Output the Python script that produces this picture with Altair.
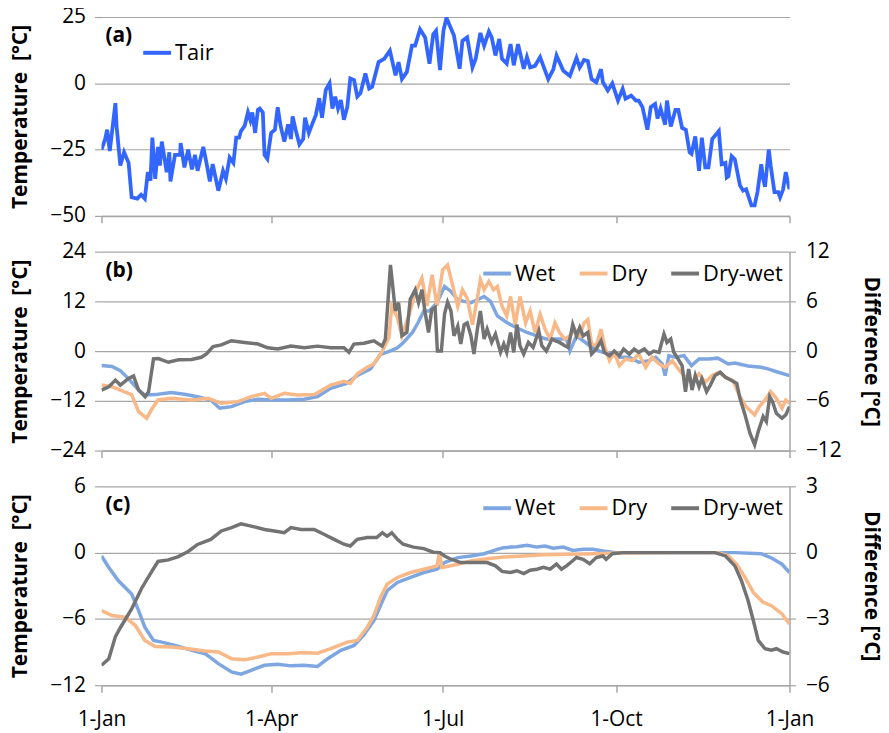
import altair as alt
import pandas as pd

# ---------------- data (day of year, value) ----------------
tick_days = [0, 90, 181, 273, 365]
tick_labels = ["1-Jan", "1-Apr", "1-Jul", "1-Oct", "1-Jan"]

tair = [(0, -25), (2, -21), (3, -17.5), (4.4, -25.5), (7.4, -7.5), (8, -16), (10, -31), (12, -26), (14.4, -30),
        (16, -43), (19, -43.5), (21, -42), (23, -43.5), (24.6, -33.5), (26, -36.7), (27, -20.5), (28.5, -36),
        (30, -24), (31, -31), (32, -22), (34.6, -33.5), (36, -26), (36.6, -37), (39, -27), (41.7, -27),
        (42, -22.5), (44, -31.7), (46, -25), (48, -32.5), (49.6, -27), (51, -33), (54, -24), (55.7, -30),
        (57.5, -37), (59, -30.5), (62, -40.5), (64.5, -33), (66, -36), (68, -28), (70, -30), (71.5, -20.5),
        (73, -20.5), (74, -18), (76, -16), (77.7, -11), (79, -14), (80, -11), (81.5, -18.7), (83, -10),
        (84, -9.5), (85.6, -11), (86.5, -27), (88, -28.5), (90, -18.7), (92, -17.5), (93.5, -9), (95, -16),
        (97, -22), (99, -15.5), (100.5, -21), (101.4, -12.5), (103, -17.5), (105, -23), (107, -21), (108, -13),
        (110, -18.7), (112, -15), (113.7, -12), (115.5, -5.6), (117, -13), (119, -2.5), (121, 0), (122.5, -9.5),
        (124, -5), (125.5, -9.5), (127, -6.3), (128.6, -13.7), (130.4, -9), (132, 1.8), (134, 1.2), (135.7, -5),
        (137.4, -3.7), (140, 3.7), (142, -2), (143.6, -1.3), (147, 8), (150, 9.2), (153, 12.3), (156, 3),
        (157.6, 8), (159.4, 1.6), (162, 4.3), (164.7, 14.2), (166.4, 14.2), (169, 20.4), (171.7, 17.3),
        (174, 7.4), (176, 18.5), (177.5, 19.8), (179.6, 5), (181.4, 19.8), (183, 24.7), (187, 18), (190, 5.5),
        (191.5, 16), (194, 17.3), (196.8, 6), (198.5, 9.2), (201, 19), (203, 14.2), (205.5, 19.5), (207, 17.3),
        (209, 10.5), (211, 16.7), (212.5, 9.2), (215, 7.4), (217, 14.8), (218.7, 6.8), (221, 14.8), (224, 5.5),
        (225.7, 9.9), (227.4, 6), (230, 6.6), (232.7, 9.9), (234.4, 6.6), (237, 1.6), (239.7, 5.3), (241.4, 10.5),
        (245, 4.7), (248.5, 2.8), (252, 9.6), (253.7, 6), (256, 8.8), (258, 8.4), (260, 1.6), (262.5, 0.4),
        (265, 5.3), (266, 0.4), (268.6, -2.7), (271, 0), (274, -6.5), (276.5, -2.1), (278, -5.8), (281, -4.6),
        (283.5, -6.5), (285, -6.5), (287, -9), (289.6, -17.5), (291.4, -9), (293.7, -7.8), (295, -13.3),
        (296.6, -9.5), (299, -15.6), (300, -6.5), (302, -16.3), (304.5, -10), (306, -10), (308, -16.8),
        (310, -17.5), (312, -26), (313, -26.6), (315, -20), (317, -33), (318.5, -20.5), (320.3, -31.7),
        (322, -31.7), (324, -21), (327.5, -18), (329, -30.5), (331, -30), (331.7, -35.5), (332.6, -35),
        (334.3, -27.5), (336, -28.7), (338.7, -38.5), (340.4, -40.5), (342, -40), (344.8, -46), (346.5, -46),
        (348, -41), (350, -30.5), (351, -36), (352, -39), (354, -25), (355, -31), (357, -41), (359, -41),
        (360, -43), (361.6, -40), (363, -33.5), (365, -40)]

wet_b = [(0, -3.5), (5.6, -3.7), (10, -4.7), (14.4, -6.7), (19.7, -9.4), (23, -10.6), (28.5, -10.5), (37, -10),
         (44, -10.4), (51, -11), (58, -11.8), (62.7, -13.8), (69, -13.4), (76, -12.2), (83, -11.6), (90, -11.8),
         (99, -11.8), (107.5, -11.6), (114.6, -11), (121.6, -9), (130, -7.8), (135.7, -5.9), (142.7, -4.3),
         (148, -0.8), (153, 0), (157, 0.8), (160, 2), (165, 4.5), (168, 6.9), (171, 9.7), (174, 9.7),
         (178, 11.7), (182, 15.6), (185.4, 14.4), (189, 12.4), (192.4, 12), (196, 11.7), (199.4, 12.4),
         (203, 13.2), (206.4, 12), (210, 8.5), (215, 6.9), (220, 5.7), (225.7, 4.5), (231, 3.7), (236, 2.9),
         (241.4, 2.9), (246.7, 2.9), (248.5, 0), (252, 3.7), (255.5, 2.5), (259, 1.3), (264, 0), (269.5, -0.7),
         (274.7, -1.5), (280, -1.5), (285, -2.7), (290.5, -2.3), (294, -1.5), (297.5, -3.1), (299, -5.9),
         (301, -1.1), (304.5, -1.5), (309, -1.1), (313, -3.5), (317, -1.9), (322, -1.9), (327, -1.7),
         (332.5, -3.1), (336, -2.9), (343, -3.6), (350, -3.9), (353.6, -4.3), (359, -5.1), (365, -5.9)]

dry_b = [(0, -8.2), (5.6, -8.6), (12, -9.8), (16, -10.5), (19.7, -14.6), (24, -16.2), (27, -13.8), (30, -11.8),
         (37, -11.4), (48, -11.8), (56.6, -11.4), (63.6, -12.6), (72.4, -12.2), (79.4, -11), (86.5, -10.2),
         (90, -11.4), (97, -10.2), (104, -10.6), (113, -10.5), (121.6, -8.2), (128.6, -7.3), (132, -7.8),
         (135.7, -5.5), (141, -3.9), (144.5, -3.1), (149, 0), (152.5, 3.3), (154, 10.9), (157, 8.1),
         (159.4, 3.7), (163, 8.5), (166.4, 14), (170, 17.6), (172.6, 10.9), (175.4, 18.4), (178, 10.9),
         (181, 19.6), (183.6, 20.8), (186, 16.4), (189, 10.8), (191.5, 14.8), (194, 12.8), (196.8, 6.4),
         (199.4, 12.8), (201, 17.2), (203, 14.8), (205.5, 16.8), (208, 14.8), (210, 15.6), (212.5, 10.8),
         (215, 8.5), (217, 13.2), (219.5, 6.4), (222, 13.2), (225, 6.8), (227.4, 9.7), (230, 4.5), (232.7, 8.9),
         (235.3, 5.3), (238, 2.9), (240.6, 6.8), (243, 4.5), (245.8, 2.9), (248.5, 3.7), (251, 5.3),
         (253.7, 3.7), (256, 6.8), (258, 7.6), (260, 1.7), (262.5, 1.3), (265, 5.3), (266.8, 1.3), (269.5, -2.3),
         (272, -0.3), (274.7, -3.5), (278, -1.9), (281.7, -2.3), (285, -0.7), (288.7, -3.9), (292, -1.5),
         (295.8, -3.1), (299, -3.9), (302.8, -2.3), (306, -4.3), (309.8, -6.3), (313.3, -7.5), (317, -5.5),
         (320.3, -7.5), (324, -5.9), (327.5, -5.1), (331, -6.3), (335, -7.1), (338.7, -11), (342, -13.4),
         (346.5, -15.4), (349, -13.4), (352, -11.8), (355, -9.8), (358, -11.4), (361, -13.8), (363, -11.8),
         (365, -12.6)]

drywet_b = [(0, -4.7), (3.9, -4.3), (7.4, -3.5), (10, -4.1), (14.4, -3.3), (17, -3), (19.7, -4.7), (23.2, -5.5),
            (25, -4.9), (27.6, -0.95), (30.2, -0.9), (35.5, -1.35), (40.8, -1.05), (47.8, -1), (53, -0.75),
            (55.7, -0.35), (59.2, 0.55), (63.6, 0.75), (68.9, 1.25), (75.9, 1.05), (83, 0.85), (88.2, 0.4),
            (93.5, 0.25), (100.5, 0.6), (107.6, 0.4), (114.6, 0.6), (121.6, 0.4), (128.6, 0.4), (131.3, -0.15),
            (133.9, 0.85), (139.2, 0.95), (144.5, 1.25), (148.9, 0.6), (150.6, 1.45), (153.3, 10.4),
            (155.9, 4.85), (157.6, 5.85), (159.4, 1.85), (162, 2.25), (163.8, 6.25), (166.4, 7.4), (168.2, 5.85),
            (170, 7.4), (171.7, 4.65), (173.5, 2.25), (175.2, 5), (177, 5.25), (178.2, 0), (180.3, 0),
            (182, 4.5), (183.6, 5.9), (185.4, 4.85), (187, 1.85), (189, 3), (190.6, 0.85), (192.4, 3.2),
            (194, 3.4), (196, 1.85), (197.6, -0.35), (199.4, 2.65), (201, 4.85), (203, 1.45), (204.6, 2.65),
            (207, 1.05), (209, 2.05), (211.7, -0.15), (213.4, 0.85), (215, -0.15), (217, 2.25), (218.7, -0.15),
            (220.4, 3.2), (222, 0.65), (224, -0.35), (226.5, 1.05), (229, 0.45), (232, 2.45), (233.6, 0.65),
            (236, 0), (239, 1.45), (240.6, 1.25), (243, 1.05), (245.8, 0.65), (247.6, 0.45), (250, 3.2),
            (252, 1.85), (253.7, 2.85), (255.5, 1.85), (258, 2.25), (260, -0.35), (262.5, 0.25), (265, 1.25),
            (266.8, -0.15), (269.5, -0.55), (272, 0), (274.7, -0.55), (277, 0.25), (280, -0.35), (282.6, 0.25),
            (285, -0.15), (288, 0.25), (290.5, -0.35), (293, 0), (295.8, -0.15), (298.4, 2.05), (300, 1.05),
            (302, 1.45), (303.6, -0.15), (305.4, -0.75), (308, -1.75), (309.8, -4.9), (311.5, -2.15),
            (313.3, -4.7), (315, -2.95), (317, -4.3), (318.5, -3.35), (321, -4.9), (323, -4.1), (325.5, -2.95),
            (328.3, -2.55), (331, -3.15), (334.3, -3.55), (337, -3.9), (338.7, -5.7), (341.4, -7.7),
            (344, -9.9), (346.5, -11.3), (348.4, -9.7), (351, -7.9), (352.7, -8.5), (354.5, -5.5), (356, -6.1),
            (358, -7.5), (361, -8.1), (363, -7.7), (365, -6.7)]

wet_c = [(0, -0.3), (3.9, -1.35), (9, -2.55), (16, -3.75), (19.7, -5.25), (23, -6.75), (27.6, -7.95), (32, -8.1),
         (39, -8.4), (48, -8.85), (55, -9.15), (62, -10.05), (69, -10.8), (74, -11), (79.4, -10.65),
         (86.5, -10.2), (93.5, -10.1), (100.5, -10.25), (107.5, -10.2), (114.6, -10.3), (120, -9.6),
         (127, -8.85), (134, -8.4), (139, -7.5), (144.5, -6.15), (148, -4.8), (151.5, -3.45), (157, -2.7),
         (164, -2.25), (171, -1.8), (178, -1.5), (182, -0.9), (189, -0.45), (196, -0.3), (203, -0.1),
         (210, 0.3), (213.4, 0.45), (220.4, 0.54), (225.7, 0.66), (231, 0.5), (235.3, 0.6), (239.7, 0.4),
         (245, 0.5), (250, 0.2), (255.5, 0.3), (260.7, 0.3), (266, 0.15), (273, 0), (301, 0), (318.5, 0),
         (336, 0), (350, -0.1), (355, -0.45), (361, -1.05), (365, -1.8)]

dry_c = [(0, -5.25), (5.6, -5.7), (12.6, -5.85), (18, -6.6), (23, -7.95), (28.5, -8.5), (37, -8.55), (46, -8.7),
         (55, -8.9), (62, -9), (69, -9.6), (76, -9.7), (83, -9.45), (90, -9.15), (99, -9.15), (107.5, -9.05),
         (114.6, -9.1), (121.6, -8.7), (130.4, -8.1), (135.7, -7.95), (141, -6.75), (144.5, -5.7), (148, -4.05),
         (151.5, -2.85), (157, -2.25), (164, -1.8), (171, -1.5), (178, -1.2), (179.3, 0), (180.5, -1.35),
         (182, -1.3), (189, -1.05), (196, -0.75), (204.6, -0.55), (213.4, -0.4), (224, -0.3), (234.4, -0.2),
         (248.5, -0.15), (262.5, -0.1), (273, -0.03), (301, 0), (327.5, 0), (332.6, -0.3), (337, -1.05),
         (341.4, -2.25), (345.8, -3.6), (351, -4.5), (355.4, -4.8), (361, -5.55), (365, -6.45)]

drywet_c = [(0, -5.1), (3.9, -4.8), (7.4, -3.8), (10, -3.4), (16, -2.55), (21.4, -1.6), (26.7, -0.85), (30, -0.4),
            (35.5, -0.33), (40.8, -0.18), (46, 0.05), (51, 0.37), (58, 0.6), (63.6, 0.98), (69, 1.13), (74, 1.3),
            (79.4, 1.2), (86.5, 1.05), (91.7, 0.98), (97, 0.9), (100.5, 1.13), (105.8, 1.05), (112.8, 1.05),
            (118, 0.83), (123.4, 0.6), (128.6, 0.38), (132, 0.3), (135.7, 0.6), (141, 0.68), (146, 0.68),
            (149, 0.9), (151.5, 0.75), (154, 0.9), (157, 0.6), (160, 0.38), (165.5, 0.25), (171, 0.18),
            (176, 0.02), (179.6, 0), (182, -0.15), (185.4, -0.3), (190.6, -0.45), (196, -0.45), (204.6, -0.45),
            (209, -0.6), (212.5, -0.85), (217, -0.9), (220.4, -0.82), (224, -0.95), (227.4, -0.8), (231, -0.75),
            (234.4, -0.67), (238, -0.75), (241.4, -0.52), (244, -0.75), (246.7, -0.6), (250, -0.37),
            (252, -0.22), (255.5, -0.3), (259, -0.5), (262.5, -0.22), (266, -0.15), (267.7, -0.3), (271, -0.05),
            (276.5, 0), (301, 0), (325.5, 0), (331, -0.15), (336, -0.6), (339.5, -1.27), (343, -2.17),
            (345.8, -3.07), (348.4, -3.97), (352, -4.35), (355.4, -4.42), (358, -4.35), (361.6, -4.5),
            (365, -4.57)]

series_names = ["Wet", "Dry", "Dry-wet"]
series_colors = ["#7EA6E0", "#F8B887", "#737373"]
tair_color = "#3366FF"

# ---------------- style ----------------
FONT = "Open Sans"
GRID = "#A6A6A6"
FS = 21
LEG_FS = 22
W, H = 692, 200

label_expr = " : ".join(f"datum.value == {d} ? '{l}'" for d, l in zip(tick_days, tick_labels)) + " : ''"


def frame(pairs, name):
    return pd.DataFrame({"day": [p[0] for p in pairs], "value": [p[1] for p in pairs], "series": name})


def x_enc(show_labels):
    return alt.X(
        "day:Q",
        scale=alt.Scale(domain=[0, 365], nice=False, zero=False),
        axis=alt.Axis(values=tick_days, labels=show_labels, labelExpr=label_expr, grid=False,
                      domainColor=GRID, domainWidth=1.5, tickColor=GRID, tickWidth=1.5, tickSize=7,
                      labelPadding=17, labelFontSize=FS, labelFont=FONT, labelColor="#000",
                      labelOverlap=False, labelFlush=False),
        title=None,
    )


def left_axis(values):
    return alt.Axis(orient="left", values=values, grid=True, gridColor=GRID, gridWidth=1.2, domain=False,
                    tickColor=GRID, tickWidth=1.2, tickSize=7, labelPadding=9, labelFontSize=FS,
                    labelFont=FONT, labelColor="#000", title="Temperature\u00a0 [°C]", titleFont=FONT,
                    titleFontSize=FS, titleFontWeight="bold", titleColor="#000", titlePadding=19,
                    minExtent=52, maxExtent=52)


def right_axis(values):
    return alt.Axis(orient="right", values=values, grid=False, domain=True, domainColor=GRID, domainWidth=1.5,
                    tickColor=GRID, tickWidth=1.2, tickSize=6, labelPadding=10, labelFontSize=FS,
                    labelFont=FONT, labelColor="#000", title="Difference [°C]", titleFont=FONT,
                    titleFontSize=FS, titleFontWeight="bold", titleColor="#000", titlePadding=19,
                    minExtent=52, maxExtent=52)


def color_enc(domain, rng, legend):
    return alt.Color("series:N", scale=alt.Scale(domain=domain, range=rng), legend=legend)


def panel_label(text):
    return alt.Chart(pd.DataFrame({"label": [text]})).mark_text(
        align="left", baseline="middle", font=FONT, fontSize=FS, fontWeight="bold", color="#000"
    ).encode(text="label:N", x=alt.value(4), y=alt.value(19))


legend3 = alt.Legend(orient="none", legendX=382, legendY=6, direction="horizontal", title=None,
                     symbolType="stroke", symbolSize=784, symbolStrokeWidth=4, labelFont=FONT,
                     labelFontSize=LEG_FS, labelColor="#000", labelOffset=2, columnPadding=16, padding=0)

# ---------------- panel (a) ----------------
legend_a = alt.Legend(orient="none", legendX=40, legendY=20, title=None, symbolType="stroke",
                      symbolSize=784, symbolStrokeWidth=4, labelFont=FONT, labelFontSize=LEG_FS,
                      labelColor="#000", labelOffset=2, padding=0)

line_a = alt.Chart(frame(tair, "Tair")).mark_line(strokeWidth=3.8, clip=True).encode(
    x=x_enc(False),
    y=alt.Y("value:Q", scale=alt.Scale(domain=[-50, 25], nice=False, zero=False), axis=left_axis([-50, -25, 0, 25])),
    color=color_enc(["Tair"], [tair_color], legend_a),
)
panel_a = alt.layer(line_a, panel_label("(a)")).properties(width=W, height=H)


# ---------------- panels (b), (c) ----------------
def dual_panel(wet, dry, drywet, ldom, lvals, rdom, rvals, label, show_labels):
    wet_l = alt.Chart(frame(wet, "Wet")).mark_line(strokeWidth=3.5, clip=True).encode(
        x=x_enc(show_labels),
        y=alt.Y("value:Q", scale=alt.Scale(domain=ldom, nice=False, zero=False), axis=left_axis(lvals)),
        color=color_enc(series_names, series_colors, legend3),
    )
    dry_l = alt.Chart(frame(dry, "Dry")).mark_line(strokeWidth=3.5, clip=True).encode(
        x=x_enc(show_labels),
        y=alt.Y("value:Q", scale=alt.Scale(domain=ldom, nice=False, zero=False), axis=left_axis(lvals)),
        color=color_enc(series_names, series_colors, legend3),
    )
    dw_l = alt.Chart(frame(drywet, "Dry-wet")).mark_line(strokeWidth=3.5, clip=True).encode(
        x=x_enc(show_labels),
        y=alt.Y("value:Q", scale=alt.Scale(domain=rdom, nice=False, zero=False), axis=right_axis(rvals)),
        color=color_enc(series_names, series_colors, legend3),
    )
    temps = alt.layer(wet_l, dry_l)
    return alt.layer(temps, dw_l, panel_label(label)).resolve_scale(y="independent").properties(width=W, height=H)


panel_b = dual_panel(wet_b, dry_b, drywet_b, [-24, 24], [-24, -12, 0, 12, 24], [-12, 12], [-12, -6, 0, 6, 12],
                     "(b)", False)
panel_c = dual_panel(wet_c, dry_c, drywet_c, [-12, 6], [-12, -6, 0, 6], [-6, 3], [-6, -3, 0, 3], "(c)", True)

chart = alt.vconcat(panel_a, panel_b, panel_c, spacing=36, bounds="flush").resolve_scale(
    x="independent", y="independent", color="independent"
).properties(
    padding={"left": 2, "top": -4, "right": 0, "bottom": 0}, background="white"
).configure_view(stroke=None)

chart.save("out.html", embed_options={"renderer": "svg", "actions": False})
